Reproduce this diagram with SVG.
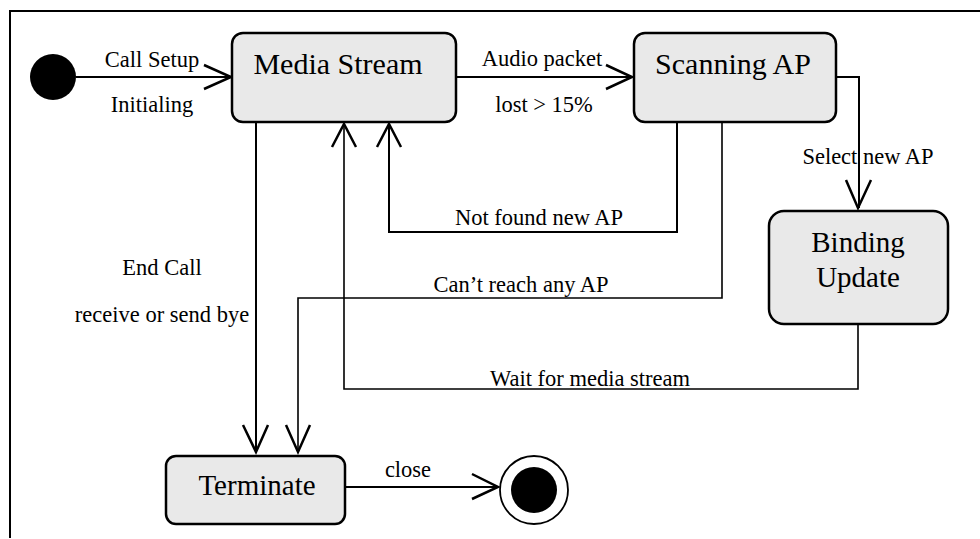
<svg xmlns="http://www.w3.org/2000/svg" width="980" height="539" viewBox="0 0 980 539">
<style>
.box{fill:#e9e9e9;stroke:#000;stroke-width:2.5}
.ln{fill:none;stroke:#000;stroke-width:2}
.thin{fill:none;stroke:#000;stroke-width:1.6}
.ah{fill:none;stroke:#000;stroke-width:2.5}
.t{font-family:"Liberation Serif","Times New Roman",serif;fill:#000}
.big{font-size:29px}
.big2{font-size:30px}
.lbl{font-size:22.5px}
</style>
<rect x="0" y="0" width="980" height="539" fill="#fff"/>
<path class="ln" d="M10,538 V11 H980"/>
<g id="connectors">
  <path class="ln" d="M76,77 H231"/>
  <path class="ah" d="M204,65 L231,77 L204,89"/>
  <path class="ln" d="M456,77 H632"/>
  <path class="ah" d="M606,65 L632,77 L606,89"/>
  <path class="ln" d="M836,77 H859 V208"/>
  <path class="ah" d="M846,180 L858,208 L871,180"/>
  <path class="ln" d="M677,122 V232 H389 V124"/>
  <path class="ah" d="M377,147 L389,124 L401,147"/>
  <path class="thin" d="M722,122 V298 H298 V452"/>
  <path class="ah" d="M286,425 L298,452 L310,425"/>
  <path class="ln" d="M256,122 V452"/>
  <path class="ah" d="M243,425 L256,452 L268,425"/>
  <path class="thin" d="M858,324 V389 H344 V124"/>
  <path class="ah" d="M332,147 L344,124 L356,147"/>
  <path class="ln" d="M345,487 H498"/>
  <path class="ah" d="M472,474 L498,487 L472,499"/>
  <text class="t lbl" x="152" y="67" text-anchor="middle">Call Setup</text>
  <text class="t lbl" x="152" y="112" text-anchor="middle">Initialing</text>
  <text class="t lbl" x="542" y="66" text-anchor="middle">Audio packet</text>
  <text class="t lbl" x="544" y="112" text-anchor="middle">lost &gt; 15%</text>
  <text class="t lbl" x="868" y="164" text-anchor="middle">Select new AP</text>
  <text class="t lbl" x="539" y="225" text-anchor="middle">Not found new AP</text>
  <text class="t lbl" x="521" y="292" text-anchor="middle">Can’t reach any AP</text>
  <text class="t lbl" x="162" y="275" text-anchor="middle">End Call</text>
  <text class="t lbl" x="162" y="322" text-anchor="middle">receive or send bye</text>
  <text class="t lbl" x="590" y="386" text-anchor="middle">Wait for media stream</text>
  <text class="t lbl" x="408" y="477" text-anchor="middle">close</text>
</g>
<g id="initial">
  <circle cx="53" cy="77" r="23" fill="#000"/>
</g>
<g id="media-stream">
  <rect class="box" x="232" y="33" width="224" height="89" rx="11"/>
  <text class="t big2" x="338" y="74" text-anchor="middle">Media Stream</text>
</g>
<g id="scanning-ap">
  <rect class="box" x="634" y="33" width="202" height="89" rx="11"/>
  <text class="t big2" x="733" y="74" text-anchor="middle">Scanning AP</text>
</g>
<g id="binding-update">
  <rect class="box" x="769" y="211" width="179" height="113" rx="15"/>
  <text class="t big" x="858" y="252" text-anchor="middle">Binding</text>
  <text class="t big" x="858" y="287" text-anchor="middle">Update</text>
</g>
<g id="terminate">
  <rect class="box" x="166" y="456" width="179" height="68" rx="10"/>
  <text class="t big" x="257" y="495" text-anchor="middle">Terminate</text>
</g>
<g id="final">
  <circle cx="534" cy="490" r="34" fill="#fff" stroke="#000" stroke-width="1.8"/>
  <circle cx="534" cy="490" r="23" fill="#000"/>
</g>
</svg>
